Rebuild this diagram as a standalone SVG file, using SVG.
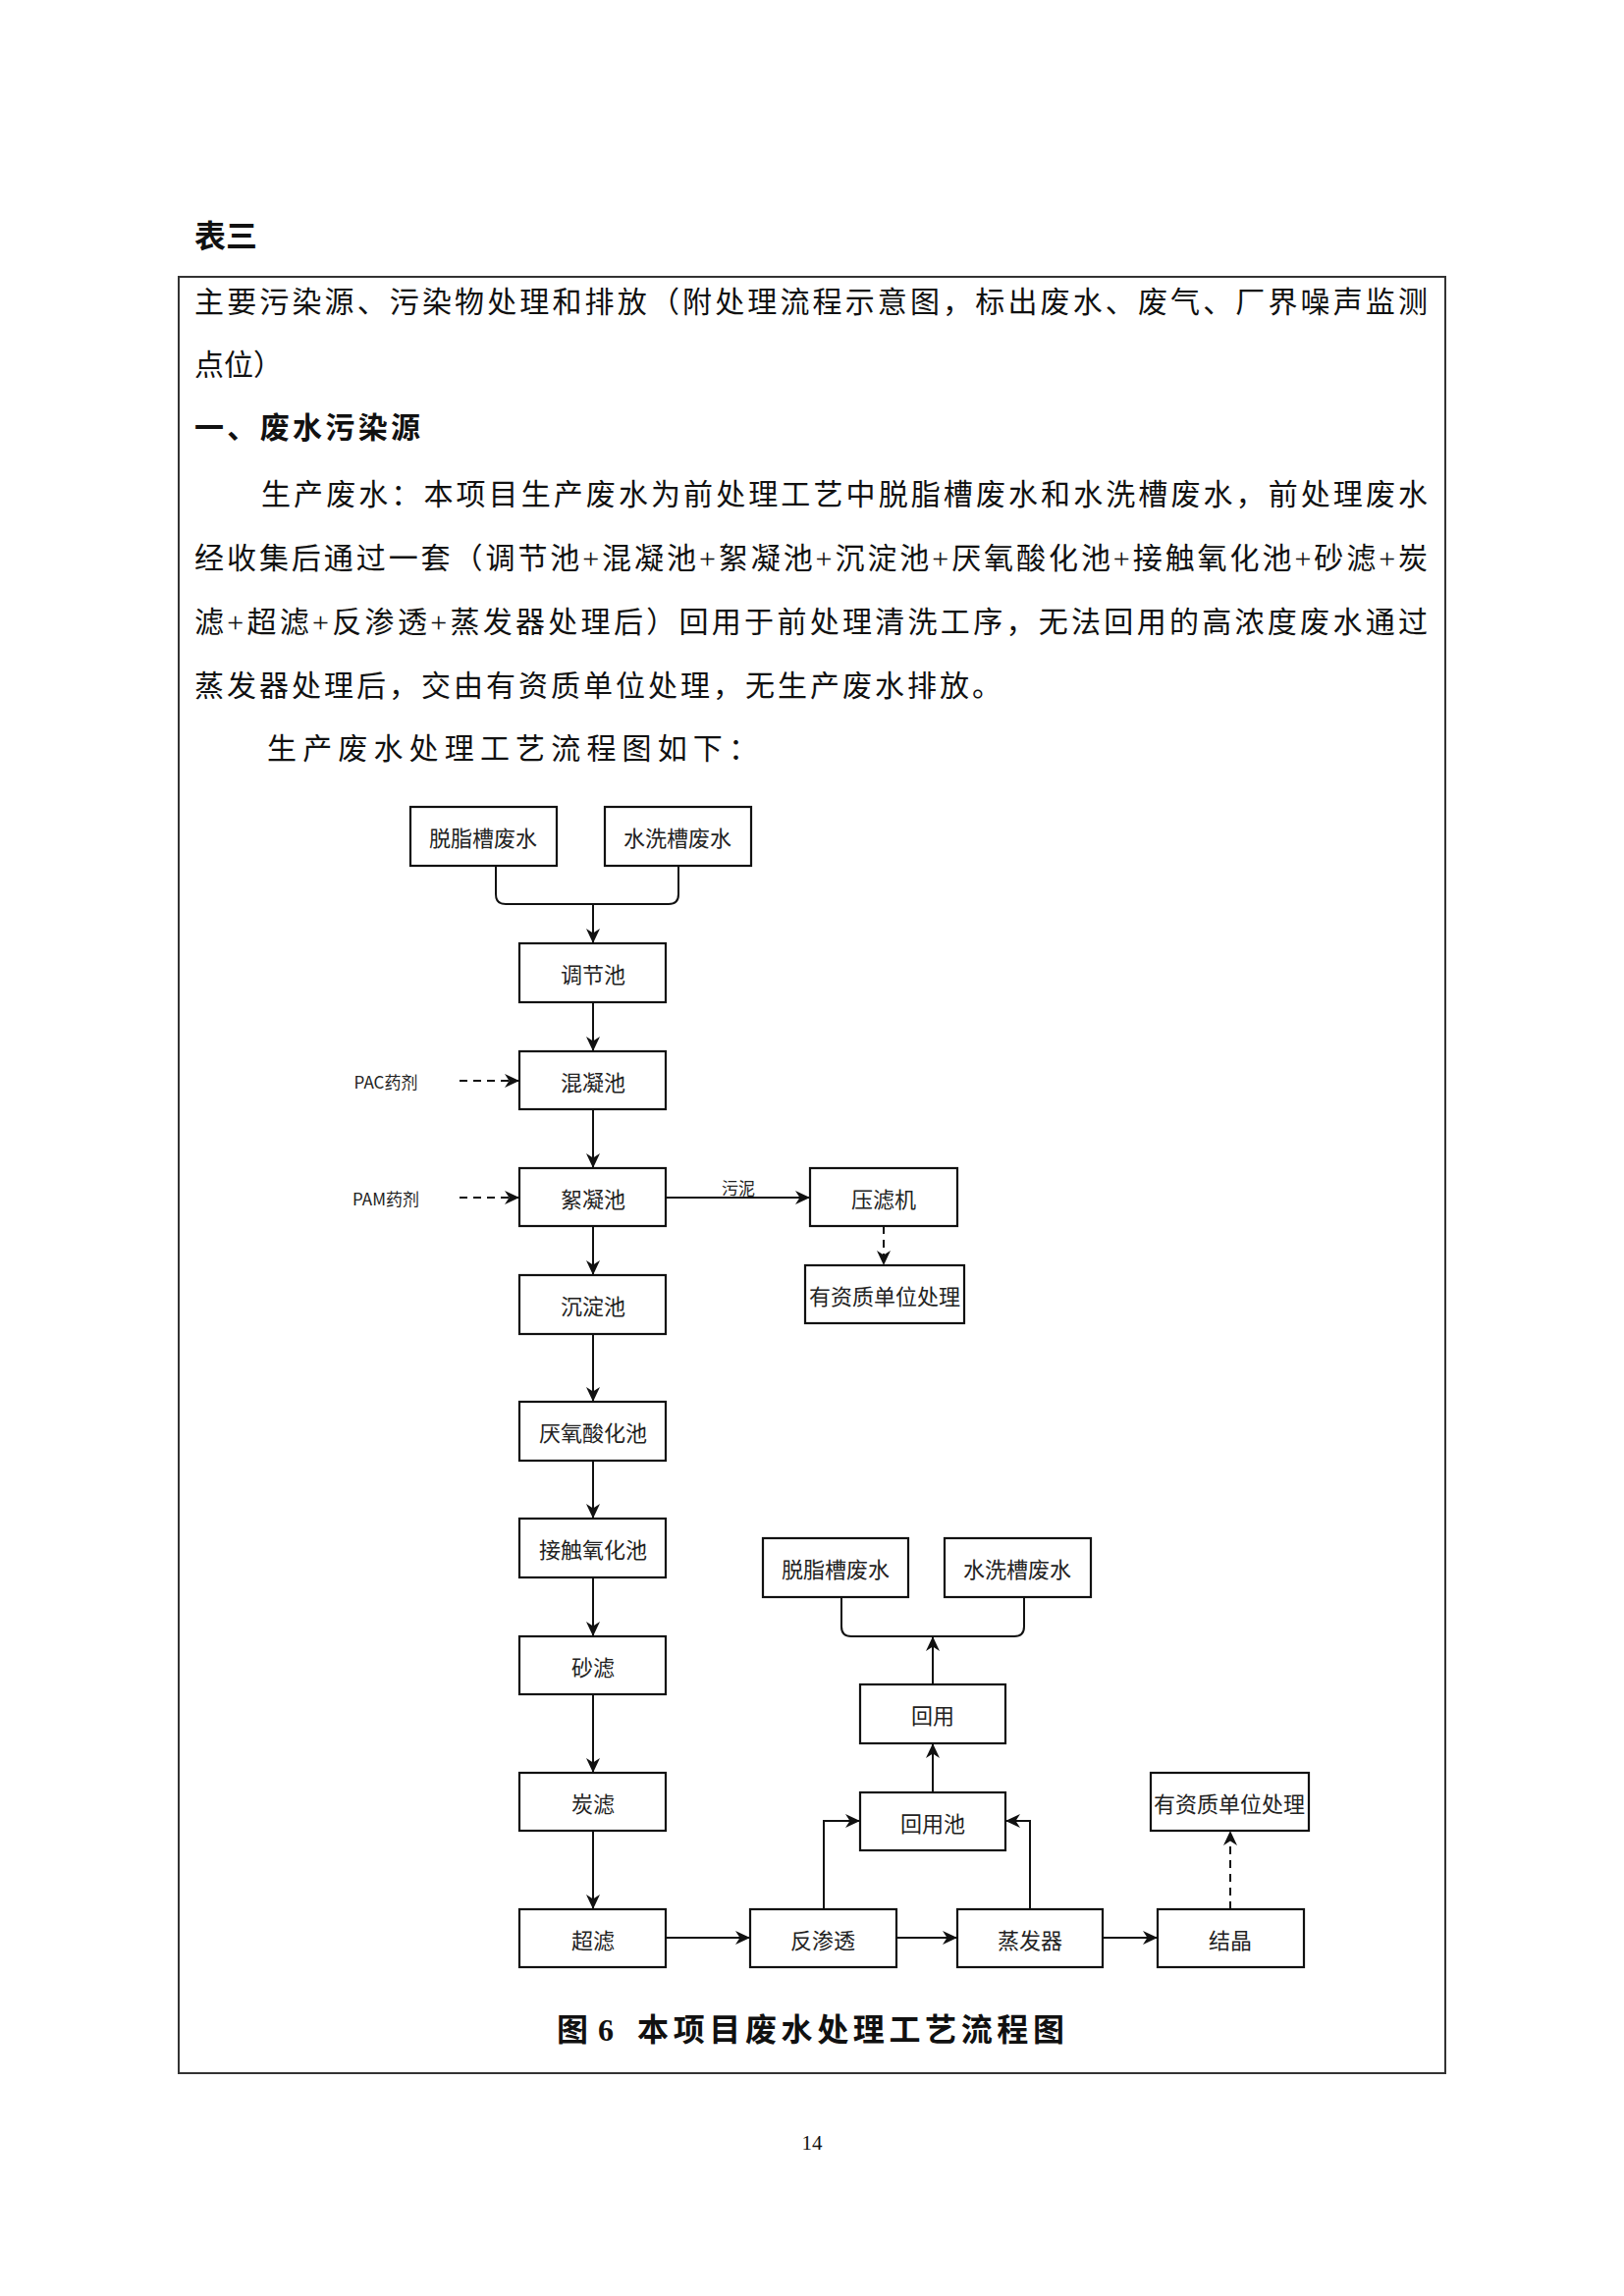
<svg xmlns="http://www.w3.org/2000/svg" width="1654" height="2339" viewBox="0 0 1654 2339">
<style>
.page{fill:#fff}
.frame{fill:none;stroke:#333;stroke-width:2}
.body{font-family:"Liberation Serif","Noto Sans CJK SC",serif;font-size:30px;fill:#111}
.bold{font-weight:bold}
.box{fill:#fff;stroke:#111;stroke-width:2.2}
.lbl{font-family:"Noto Sans CJK SC","Liberation Sans",sans-serif;font-size:22px;fill:#222;text-anchor:middle;dominant-baseline:central}
.small{font-size:17px}
.conn{fill:none;stroke:#111;stroke-width:2}
.dash{stroke-dasharray:8 6}
</style>
<defs>
<marker id="arr" markerUnits="userSpaceOnUse" markerWidth="16" markerHeight="16" viewBox="0 0 16 16" refX="15" refY="8" orient="auto">
<path d="M0,1 L15,8 L0,15 L4.5,8 z" fill="#111"/>
</marker>
</defs>
<rect class="page" x="0" y="0" width="1654" height="2339"/>

<g id="page-text">
<text class="body bold" x="198" y="252" style="font-size:32px">表三</text>
<rect class="frame" x="182" y="282" width="1290" height="1830"/>
<text class="body" x="198" y="318" textLength="1256" lengthAdjust="spacing">主要污染源、污染物处理和排放（附处理流程示意图，标出废水、废气、厂界噪声监测</text>
<text class="body" x="198" y="382">点位）</text>
<text class="body bold" x="198" y="446" textLength="230" lengthAdjust="spacing">一、废水污染源</text>
<text class="body" x="266" y="514" textLength="1188" lengthAdjust="spacing">生产废水：本项目生产废水为前处理工艺中脱脂槽废水和水洗槽废水，前处理废水</text>
<text class="body" x="198" y="579" textLength="1256" lengthAdjust="spacing">经收集后通过一套（调节池+混凝池+絮凝池+沉淀池+厌氧酸化池+接触氧化池+砂滤+炭</text>
<text class="body" x="198" y="644" textLength="1256" lengthAdjust="spacing">滤+超滤+反渗透+蒸发器处理后）回用于前处理清洗工序，无法回用的高浓度废水通过</text>
<text class="body" x="198" y="709" textLength="822" lengthAdjust="spacing">蒸发器处理后，交由有资质单位处理，无生产废水排放。</text>
<text class="body" x="272" y="773" textLength="500" lengthAdjust="spacing">生产废水处理工艺流程图如下：</text>
<text class="body bold" x="567" y="2079" style="font-size:32px">图</text>
<text class="body bold" x="609" y="2079" style="font-size:32px">6</text>
<text class="body bold" x="649" y="2079" style="font-size:32px" textLength="435" lengthAdjust="spacing">本项目废水处理工艺流程图</text>
<text class="body" x="827" y="2190" style="font-size:21px" text-anchor="middle">14</text>
</g>

<g id="connectors">
<path class="conn" d="M505,882 V911 Q505,921 515,921 H681 Q691,921 691,911 V882"/>
<path class="conn" d="M604,921 V961" marker-end="url(#arr)"/>
<path class="conn" d="M604,1021 V1071" marker-end="url(#arr)"/>
<path class="conn" d="M604,1130 V1190" marker-end="url(#arr)"/>
<path class="conn" d="M604,1249 V1299" marker-end="url(#arr)"/>
<path class="conn" d="M604,1359 V1428" marker-end="url(#arr)"/>
<path class="conn" d="M604,1488 V1547" marker-end="url(#arr)"/>
<path class="conn" d="M604,1607 V1667" marker-end="url(#arr)"/>
<path class="conn" d="M604,1726 V1806" marker-end="url(#arr)"/>
<path class="conn" d="M604,1865 V1945" marker-end="url(#arr)"/>
<path class="conn dash" d="M468,1101 H529" marker-end="url(#arr)"/>
<path class="conn dash" d="M468,1220 H529" marker-end="url(#arr)"/>
<path class="conn" d="M678,1220 H825" marker-end="url(#arr)"/>
<text class="lbl small" x="752" y="1209">污泥</text>
<path class="conn dash" d="M900,1249 V1289" marker-end="url(#arr)"/>
<path class="conn" d="M857,1627 V1657 Q857,1667 867,1667 H1033 Q1043,1667 1043,1657 V1627"/>
<path class="conn" d="M950,1716 V1667" marker-end="url(#arr)"/>
<path class="conn" d="M950,1826 V1776" marker-end="url(#arr)"/>
<path class="conn" d="M839,1945 V1855 H876" marker-end="url(#arr)"/>
<path class="conn" d="M1049,1945 V1855 H1024" marker-end="url(#arr)"/>
<path class="conn" d="M678,1974 H764" marker-end="url(#arr)"/>
<path class="conn" d="M913,1974 H975" marker-end="url(#arr)"/>
<path class="conn" d="M1123,1974 H1179" marker-end="url(#arr)"/>
<path class="conn dash" d="M1253,1945 V1865" marker-end="url(#arr)"/>
</g>

<g id="n-pac"><text class="lbl small" x="393" y="1101">PAC药剂</text></g>
<g id="n-pam"><text class="lbl small" x="393" y="1220">PAM药剂</text></g>
<g id="n-tz1"><rect class="box" x="418" y="822" width="149" height="60"/><text class="lbl" x="492" y="852">脱脂槽废水</text></g>
<g id="n-sx1"><rect class="box" x="616" y="822" width="149" height="60"/><text class="lbl" x="690" y="852">水洗槽废水</text></g>
<g id="n-tjc"><rect class="box" x="529" y="961" width="149" height="60"/><text class="lbl" x="604" y="991">调节池</text></g>
<g id="n-hnc"><rect class="box" x="529" y="1071" width="149" height="59"/><text class="lbl" x="604" y="1101">混凝池</text></g>
<g id="n-xnc"><rect class="box" x="529" y="1190" width="149" height="59"/><text class="lbl" x="604" y="1220">絮凝池</text></g>
<g id="n-cdc"><rect class="box" x="529" y="1299" width="149" height="60"/><text class="lbl" x="604" y="1329">沉淀池</text></g>
<g id="n-yy"><rect class="box" x="529" y="1428" width="149" height="60"/><text class="lbl" x="604" y="1458">厌氧酸化池</text></g>
<g id="n-jc"><rect class="box" x="529" y="1547" width="149" height="60"/><text class="lbl" x="604" y="1577">接触氧化池</text></g>
<g id="n-sl"><rect class="box" x="529" y="1667" width="149" height="59"/><text class="lbl" x="604" y="1697">砂滤</text></g>
<g id="n-tl"><rect class="box" x="529" y="1806" width="149" height="59"/><text class="lbl" x="604" y="1836">炭滤</text></g>
<g id="n-cl"><rect class="box" x="529" y="1945" width="149" height="59"/><text class="lbl" x="604" y="1975">超滤</text></g>
<g id="n-ylj"><rect class="box" x="825" y="1190" width="150" height="59"/><text class="lbl" x="900" y="1220">压滤机</text></g>
<g id="n-yzz1"><rect class="box" x="820" y="1289" width="162" height="59"/><text class="lbl" x="901" y="1319">有资质单位处理</text></g>
<g id="n-tz2"><rect class="box" x="777" y="1567" width="148" height="60"/><text class="lbl" x="851" y="1597">脱脂槽废水</text></g>
<g id="n-sx2"><rect class="box" x="962" y="1567" width="149" height="60"/><text class="lbl" x="1036" y="1597">水洗槽废水</text></g>
<g id="n-hy"><rect class="box" x="876" y="1716" width="148" height="60"/><text class="lbl" x="950" y="1746">回用</text></g>
<g id="n-hyc"><rect class="box" x="876" y="1826" width="148" height="59"/><text class="lbl" x="950" y="1856">回用池</text></g>
<g id="n-fst"><rect class="box" x="764" y="1945" width="149" height="59"/><text class="lbl" x="838" y="1975">反渗透</text></g>
<g id="n-zfq"><rect class="box" x="975" y="1945" width="148" height="59"/><text class="lbl" x="1049" y="1975">蒸发器</text></g>
<g id="n-jj"><rect class="box" x="1179" y="1945" width="149" height="59"/><text class="lbl" x="1253" y="1975">结晶</text></g>
<g id="n-yzz2"><rect class="box" x="1172" y="1806" width="161" height="59"/><text class="lbl" x="1252" y="1836">有资质单位处理</text></g>
</svg>
